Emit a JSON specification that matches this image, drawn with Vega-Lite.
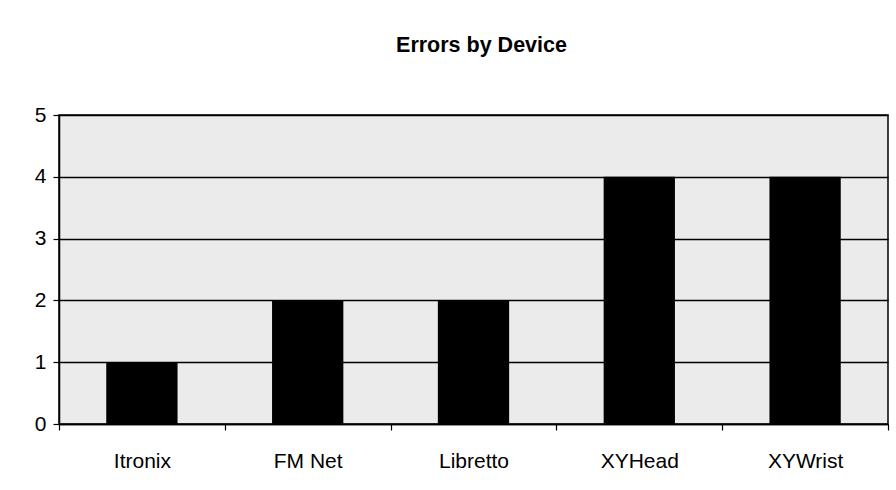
{
  "$schema": "https://vega.github.io/schema/vega-lite/v6.json",
  "width": 829,
  "height": 309,
  "autosize": {"type": "none"},
  "padding": {"left": 59, "top": 115, "right": 8, "bottom": 66},
  "background": "white",
  "title": {
    "text": "Errors by Device",
    "font": "Liberation Sans",
    "fontSize": 21.5,
    "fontWeight": "bold",
    "color": "black",
    "anchor": "middle",
    "offset": 48,
    "dx": 8
  },
  "data": {
    "values": [
      {"device": "Itronix", "errors": 1},
      {"device": "FM Net", "errors": 2},
      {"device": "Libretto", "errors": 2},
      {"device": "XYHead", "errors": 4},
      {"device": "XYWrist", "errors": 4}
    ]
  },
  "mark": {"type": "bar", "color": "black", "width": {"band": 0.43}},
  "encoding": {
    "x": {
      "field": "device",
      "type": "nominal",
      "sort": null,
      "scale": {"paddingInner": 0, "paddingOuter": 0},
      "axis": {
        "title": null,
        "labelAngle": 0,
        "labelFont": "Liberation Sans",
        "labelFontSize": 21,
        "labelColor": "black",
        "labelPadding": 20,
        "tickBand": "extent",
        "tickColor": "black",
        "tickSize": 6,
        "tickWidth": 1.2,
        "domainColor": "black",
        "domainWidth": 1.5,
        "grid": false
      }
    },
    "y": {
      "field": "errors",
      "type": "quantitative",
      "scale": {"domain": [0, 5], "nice": false},
      "axis": {
        "title": null,
        "values": [0, 1, 2, 3, 4, 5],
        "labelFont": "Liberation Sans",
        "labelFontSize": 21,
        "labelColor": "black",
        "labelPadding": 7,
        "tickColor": "black",
        "tickSize": 6,
        "tickWidth": 1.2,
        "domainColor": "black",
        "domainWidth": 1.5,
        "grid": true,
        "gridColor": "black",
        "gridWidth": 1.3,
        "gridOpacity": 1
      }
    }
  },
  "config": {
    "view": {"fill": "#ebebeb", "stroke": "black", "strokeWidth": 1.5}
  }
}
